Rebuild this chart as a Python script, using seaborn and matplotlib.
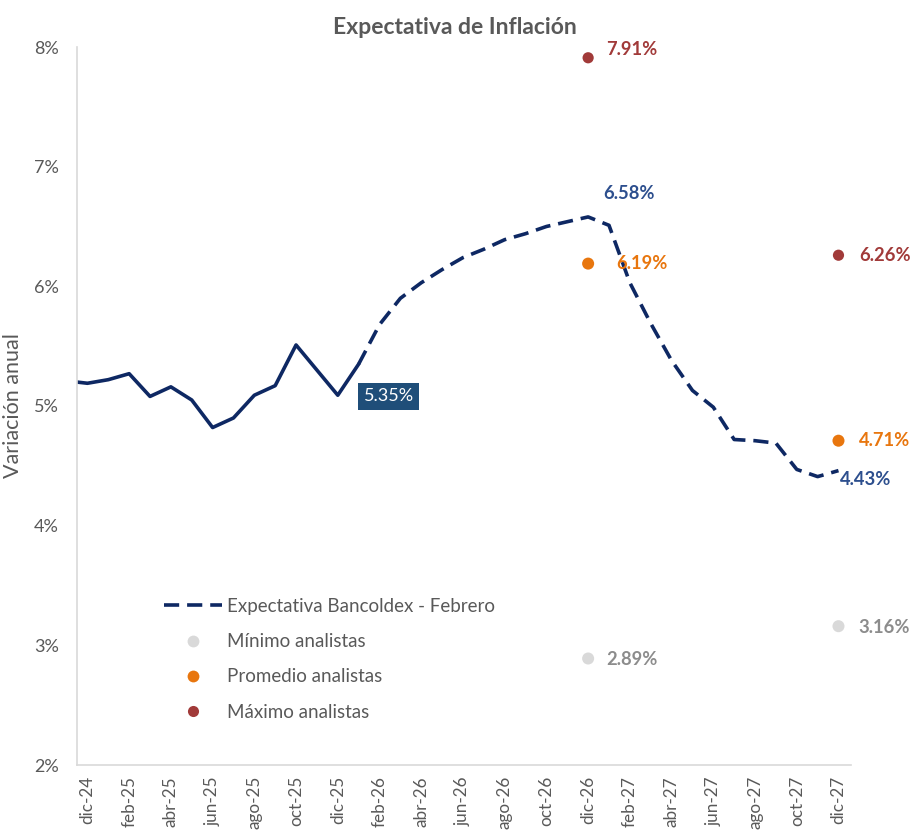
import numpy as np
import pandas as pd
import seaborn as sns
import matplotlib.pyplot as plt
from matplotlib.lines import Line2D

# Month labels (nov-24 is only partly visible at the left edge)
meses = ['nov-24', 'dic-24',
         'ene-25', 'feb-25', 'mar-25', 'abr-25', 'may-25', 'jun-25',
         'jul-25', 'ago-25', 'sep-25', 'oct-25', 'nov-25', 'dic-25',
         'ene-26', 'feb-26', 'mar-26', 'abr-26', 'may-26', 'jun-26',
         'jul-26', 'ago-26', 'sep-26', 'oct-26', 'nov-26', 'dic-26',
         'ene-27', 'feb-27', 'mar-27', 'abr-27', 'may-27', 'jun-27',
         'jul-27', 'ago-27', 'sep-27', 'oct-27', 'nov-27', 'dic-27']

# Observed inflation, nov-24 .. ene-26
observado = [5.21, 5.19, 5.22, 5.27, 5.08, 5.16, 5.05, 4.82, 4.90, 5.09,
             5.17, 5.51, 5.30, 5.09, 5.35]

# Bancoldex expectation, ene-26 .. dic-27
proyectado = [5.35, 5.68, 5.90, 6.03, 6.14, 6.24, 6.31, 6.39, 6.44, 6.50,
              6.54, 6.58, 6.51, 6.03, 5.69, 5.38, 5.13, 4.99, 4.72, 4.71,
              4.69, 4.47, 4.41, 4.46]

# Analysts
fechas_analistas = ['dic-26', 'dic-27']
minimo = [2.89, 3.16]
promedio = [6.19, 4.71]
maximo = [7.91, 6.26]

# dic-24 is position 0
pos = {m: i - 1 for i, m in enumerate(meses)}

df_obs = pd.DataFrame({'x': [pos[m] for m in meses[:len(observado)]], 'y': observado})
ini = len(observado) - 1
df_proj = pd.DataFrame({'x': [pos[m] for m in meses[ini:ini + len(proyectado)]], 'y': proyectado})
df_an = pd.DataFrame({'x': [pos[m] for m in fechas_analistas],
                      'minimo': minimo, 'promedio': promedio, 'maximo': maximo})

navy = '#0E2863'
azul_txt = '#2D4F8E'
caja = '#1F4E79'
c_min = '#D9D9D9'
c_prom = '#E8760E'
c_max = '#A13A39'
gris = '#595959'

sns.set_style('white')
plt.rcParams['font.family'] = ['Lato', 'DejaVu Sans']

fig = plt.figure(figsize=(9.2, 8.34), dpi=100)
ax = fig.add_axes([77 / 920, 1 - 765 / 834, 774 / 920, 718 / 834])

sns.lineplot(data=df_obs, x='x', y='y', color=navy, lw=2.6, ax=ax)
sns.lineplot(data=df_proj, x='x', y='y', color=navy, lw=2.6, ax=ax,
             dashes=False, linestyle=(0, (4.2, 2.2)))
sns.scatterplot(data=df_an, x='x', y='minimo', color=c_min, s=75, edgecolor='none', ax=ax, zorder=4)
sns.scatterplot(data=df_an, x='x', y='promedio', color=c_prom, s=75, edgecolor='none', ax=ax, zorder=4)
sns.scatterplot(data=df_an, x='x', y='maximo', color=c_max, s=65, edgecolor='none', ax=ax, zorder=4)

ax.set_xlim(-0.5, 36.6)
ax.set_ylim(2, 8)

ticks = [pos[m] for m in meses[1::2]]
ax.set_xticks(ticks)
ax.set_xticklabels(meses[1::2], rotation=90, fontsize=12.3, color=gris)
ax.set_yticks(np.arange(2, 9))
ax.set_yticklabels([f'{v}%' for v in range(2, 9)], fontsize=13, color=gris)
ax.tick_params(axis='x', length=0, pad=8)
ax.tick_params(axis='y', length=0, pad=13)

ax.set_xlabel('')
ax.set_ylabel('Variación anual', fontsize=15.5, color=gris, labelpad=8)
ax.set_title('Expectativa de Inflación', fontsize=16.5, fontweight='bold', color=gris,
             pad=9, x=0.488)

for s in ['top', 'right']:
    ax.spines[s].set_visible(False)
for s in ['left', 'bottom']:
    ax.spines[s].set_color('#D9D9D9')
    ax.spines[s].set_linewidth(1.2)

px = 0.72  # points per pixel at 100 dpi


def etiqueta(x, y, texto, color, dx, dy):
    ax.annotate(texto, (x, y), xytext=(dx * px, dy * px), textcoords='offset points',
                ha='left', va='center', fontsize=13.2, fontweight='bold', color=color)


# Analyst labels
for i in range(len(df_an)):
    x = df_an['x'][i]
    etiqueta(x, maximo[i], f'{maximo[i]:.2f}%', c_max, 18 if i == 0 else 21, 8 if i == 0 else 0)
    etiqueta(x, promedio[i], f'{promedio[i]:.2f}%', c_prom, 28 if i == 0 else 20, 0)
    etiqueta(x, minimo[i], f'{minimo[i]:.2f}%', '#8C8C8C', 18 if i == 0 else 20, -1)

# Expectation labels
pico = int(np.argmax(proyectado))
etiqueta(df_proj['x'][pico], proyectado[pico], f'{proyectado[pico]:.2f}%', azul_txt, 15, 23)
etiqueta(df_proj['x'].iloc[-1], proyectado[-1], '4.43%', azul_txt, 1, -9)

# Last observed value in a box
ax.annotate(f'{observado[-1]:.2f}%', (df_obs['x'].iloc[-1], observado[-1]),
            xytext=(30 * px, -32 * px), textcoords='offset points',
            ha='center', va='center', fontsize=13, color='white',
            bbox=dict(boxstyle='square,pad=0.3', fc=caja, ec='none'))

handles = [
    Line2D([0], [0], color=navy, lw=2.6, linestyle=(0, (4.2, 2.2))),
    Line2D([0], [0], marker='o', color='none', markerfacecolor=c_min, markeredgecolor='none', markersize=8.5),
    Line2D([0], [0], marker='o', color='none', markerfacecolor=c_prom, markeredgecolor='none', markersize=8.5),
    Line2D([0], [0], marker='o', color='none', markerfacecolor=c_max, markeredgecolor='none', markersize=8),
]
nombres = ['Expectativa Bancoldex - Febrero', 'Mínimo analistas',
           'Promedio analistas', 'Máximo analistas']
leg = ax.legend(handles, nombres, loc='upper left', bbox_to_anchor=(0.1, 0.246),
                frameon=False, fontsize=13.5, labelspacing=0.98, handlelength=3.1,
                handletextpad=0.25, borderpad=0)
for t in leg.get_texts():
    t.set_color(gris)

fig.savefig('out.png', dpi=100)
